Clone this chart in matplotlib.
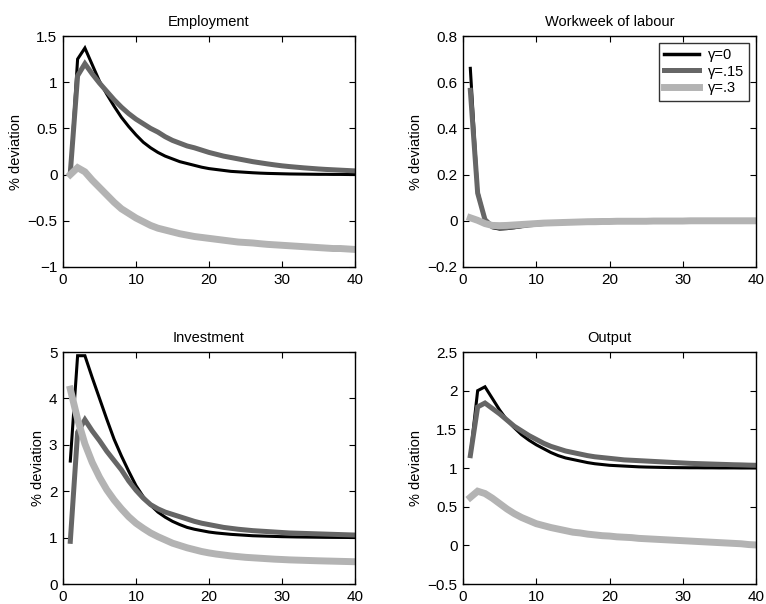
import numpy as np
import matplotlib
matplotlib.use("Agg")
import matplotlib.pyplot as plt

plt.rcParams["font.family"] = ["Liberation Sans", "DejaVu Sans"]

periods = np.arange(1, 41)
legend_labels = ["\u03b3=0", "\u03b3=.15", "\u03b3=.3"]

# Employment
emp_g0 = [0.00, 1.25, 1.37, 1.19, 1.01, 0.87, 0.74, 0.62, 0.52, 0.43,
          0.35, 0.29, 0.24, 0.20, 0.17, 0.14, 0.12, 0.10, 0.08, 0.065,
          0.055, 0.045, 0.035, 0.030, 0.025, 0.020, 0.016, 0.013, 0.011, 0.009,
          0.007, 0.006, 0.005, 0.004, 0.003, 0.003, 0.002, 0.002, 0.001, 0.001]
emp_g15 = [0.02, 1.07, 1.20, 1.09, 0.99, 0.90, 0.81, 0.73, 0.66, 0.60,
           0.55, 0.50, 0.46, 0.41, 0.37, 0.34, 0.31, 0.29, 0.265, 0.24,
           0.22, 0.20, 0.185, 0.17, 0.155, 0.14, 0.128, 0.116, 0.105, 0.095,
           0.087, 0.080, 0.073, 0.067, 0.061, 0.056, 0.052, 0.048, 0.044, 0.040]
emp_g3 = [0.00, 0.075, 0.03, -0.06, -0.14, -0.22, -0.30, -0.37, -0.42, -0.47,
          -0.51, -0.55, -0.58, -0.60, -0.62, -0.64, -0.655, -0.67, -0.68, -0.69,
          -0.70, -0.71, -0.72, -0.73, -0.735, -0.74, -0.748, -0.755, -0.76, -0.765,
          -0.77, -0.775, -0.78, -0.785, -0.79, -0.795, -0.80, -0.80, -0.805, -0.81]

# Workweek of labour
wk_g0 = [0.66, 0.13, 0.00, -0.030, -0.036, -0.034, -0.030, -0.025, -0.020, -0.016,
         -0.013, -0.010, -0.008, -0.006, -0.005, -0.004, -0.003, -0.002, -0.002, -0.001,
         -0.001, -0.001, 0, 0, 0, 0, 0, 0, 0, 0,
         0, 0, 0, 0, 0, 0, 0, 0, 0, 0]
wk_g15 = [0.565, 0.12, 0.005, -0.025, -0.030, -0.029, -0.026, -0.022, -0.018, -0.015,
          -0.012, -0.010, -0.008, -0.006, -0.005, -0.004, -0.003, -0.002, -0.002, -0.001,
          -0.001, -0.001, 0, 0, 0, 0, 0, 0, 0, 0,
          0, 0, 0, 0, 0, 0, 0, 0, 0, 0]
wk_g3 = [0.013, 0.002, -0.012, -0.020, -0.021, -0.020, -0.018, -0.016, -0.014, -0.012,
         -0.010, -0.009, -0.008, -0.007, -0.006, -0.005, -0.004, -0.004, -0.003, -0.003,
         -0.002, -0.002, -0.002, -0.002, -0.002, -0.001, -0.001, -0.001, -0.001, -0.001,
         0, 0, 0, 0, 0, 0, 0, 0, 0, 0]

# Investment
inv_g0 = [2.65, 4.92, 4.92, 4.45, 4.00, 3.55, 3.12, 2.76, 2.43, 2.12,
          1.88, 1.70, 1.55, 1.44, 1.35, 1.28, 1.22, 1.18, 1.15, 1.12,
          1.10, 1.085, 1.07, 1.06, 1.05, 1.04, 1.035, 1.03, 1.025, 1.02,
          1.017, 1.014, 1.012, 1.01, 1.008, 1.006, 1.005, 1.004, 1.003, 1.002]
inv_g15 = [0.92, 3.27, 3.54, 3.30, 3.09, 2.86, 2.66, 2.46, 2.22, 2.02,
           1.85, 1.71, 1.62, 1.55, 1.50, 1.45, 1.40, 1.35, 1.31, 1.28,
           1.25, 1.22, 1.20, 1.18, 1.165, 1.15, 1.14, 1.13, 1.12, 1.11,
           1.10, 1.095, 1.09, 1.085, 1.08, 1.075, 1.07, 1.065, 1.06, 1.055]
inv_g3 = [4.20, 3.55, 3.02, 2.62, 2.30, 2.03, 1.81, 1.62, 1.45, 1.31,
          1.20, 1.10, 1.02, 0.95, 0.88, 0.83, 0.78, 0.74, 0.70, 0.67,
          0.645, 0.625, 0.605, 0.59, 0.575, 0.565, 0.555, 0.545, 0.535, 0.528,
          0.52, 0.515, 0.51, 0.505, 0.50, 0.496, 0.492, 0.488, 0.484, 0.48]

# Output
out_g0 = [1.16, 2.00, 2.05, 1.90, 1.75, 1.62, 1.52, 1.43, 1.36, 1.30,
          1.25, 1.20, 1.16, 1.13, 1.11, 1.09, 1.07, 1.055, 1.045, 1.035,
          1.03, 1.025, 1.02, 1.015, 1.012, 1.01, 1.008, 1.006, 1.005, 1.004,
          1.003, 1.003, 1.002, 1.002, 1.001, 1.001, 1.001, 1.0, 1.0, 1.0]
out_g15 = [1.16, 1.79, 1.84, 1.77, 1.70, 1.62, 1.54, 1.48, 1.42, 1.37,
           1.32, 1.28, 1.25, 1.22, 1.20, 1.18, 1.16, 1.145, 1.135, 1.125,
           1.115, 1.105, 1.10, 1.095, 1.09, 1.085, 1.08, 1.075, 1.07, 1.065,
           1.06, 1.057, 1.054, 1.051, 1.048, 1.045, 1.042, 1.04, 1.037, 1.035]
out_g3 = [0.62, 0.70, 0.67, 0.61, 0.54, 0.47, 0.41, 0.36, 0.32, 0.28,
          0.255, 0.23, 0.21, 0.19, 0.17, 0.16, 0.145, 0.135, 0.125, 0.12,
          0.11, 0.105, 0.10, 0.09, 0.085, 0.08, 0.075, 0.07, 0.065, 0.06,
          0.055, 0.05, 0.045, 0.04, 0.035, 0.03, 0.025, 0.02, 0.01, 0.005]

panels = [
    ("Employment", [emp_g0, emp_g15, emp_g3], (-1, 1.5), [-1, -0.5, 0, 0.5, 1, 1.5], ["\u22121", "\u22120.5", "0", "0.5", "1", "1.5"]),
    ("Workweek of labour", [wk_g0, wk_g15, wk_g3], (-0.2, 0.8), [-0.2, 0, 0.2, 0.4, 0.6, 0.8], ["\u22120.2", "0", "0.2", "0.4", "0.6", "0.8"]),
    ("Investment", [inv_g0, inv_g15, inv_g3], (0, 5), [0, 1, 2, 3, 4, 5], ["0", "1", "2", "3", "4", "5"]),
    ("Output", [out_g0, out_g15, out_g3], (-0.5, 2.5), [-0.5, 0, 0.5, 1, 1.5, 2, 2.5], ["\u22120.5", "0", "0.5", "1", "1.5", "2", "2.5"]),
]

line_colors = ["#000000", "#666666", "#b3b3b3"]
line_widths = [2.2, 3.6, 5.0]

W, H = 766, 604
fig = plt.figure(figsize=(W / 100, H / 100), dpi=100)

boxes = [(63, 36, 355, 267), (463, 36, 756, 267),
         (63, 352, 355, 584), (463, 352, 756, 584)]

for (title, series, ylim, yticks, ylabels), (x0, y0, x1, y1) in zip(panels, boxes):
    ax = fig.add_axes([x0 / W, 1 - y1 / H, (x1 - x0) / W, (y1 - y0) / H])
    for vals, c, lw, lab in zip(series, line_colors, line_widths, legend_labels):
        ax.plot(periods, vals, color=c, lw=lw, label=lab, solid_joinstyle="miter")
    ax.set_xlim(0, 40)
    ax.set_ylim(*ylim)
    ax.set_xticks([0, 10, 20, 30, 40])
    ax.set_yticks(yticks)
    ax.set_yticklabels(ylabels)
    ax.tick_params(direction="in", top=True, right=True, length=4, width=0.8,
                   labelsize=11, pad=4)
    for sp in ax.spines.values():
        sp.set_linewidth(1.0)
    ax.set_title(title, fontsize=10.5, pad=7)
    ax.set_ylabel("% deviation", fontsize=10.5, labelpad=3)
    if title == "Workweek of labour":
        leg = ax.legend(loc="upper right", fontsize=10.5, frameon=True, fancybox=False,
                        edgecolor="black", handlelength=2.4, borderpad=0.35,
                        labelspacing=0.2, handletextpad=0.6, borderaxespad=0.45)
        leg.get_frame().set_linewidth(1.0)
        for h, lw in zip(leg.get_lines(), [2.5, 3.6, 5.0]):
            h.set_linewidth(lw)

fig.savefig("out.png", dpi=100)
